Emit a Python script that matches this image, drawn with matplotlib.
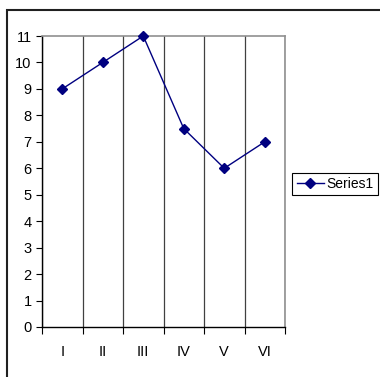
import numpy as np
import matplotlib.pyplot as plt
from matplotlib.patches import Rectangle

plt.rcParams['font.family'] = ['Liberation Sans', 'DejaVu Sans']

# data
categories = ['I', 'II', 'III', 'IV', 'V', 'VI']
series1 = [9, 10, 11, 7.5, 6, 7]
y_ticks = list(range(0, 12))

W, H = 380, 377
fig = plt.figure(figsize=(W / 100, H / 100), dpi=100)

# outer chart border (left and top visible, right/bottom run off the picture)
fig.patches.append(Rectangle((6.5 / W, -0.05), 1.2, (H - 9.5) / H + 0.05,
                             transform=fig.transFigure, fill=False,
                             edgecolor='#202020', linewidth=1.5))

ax = fig.add_axes([42 / W, 50 / H, (285 - 42) / W, (327 - 36) / H])

x = np.arange(len(categories)) + 0.5
ax.plot(x, series1, color='#000080', linewidth=1.0, marker='D',
        markersize=5, markerfacecolor='#000080', markeredgecolor='#000080',
        label='Series1', clip_on=False, zorder=5)

ax.set_xlim(0, len(categories))
ax.set_ylim(0, 11)

# category boundaries: gridlines + ticks
ax.set_xticks(np.arange(0, len(categories) + 1))
ax.set_xticklabels([])
ax.set_xticks(x, minor=True)
ax.set_xticklabels(categories, minor=True)
ax.tick_params(axis='x', which='major', length=5, width=0.8, direction='out',
               color='black')
ax.tick_params(axis='x', which='minor', length=0, pad=13, labelsize=10.5)
ax.xaxis.grid(True, which='major', color='#404040', linewidth=0.9)

ax.set_yticks(y_ticks)
ax.tick_params(axis='y', length=4, width=0.8, pad=3.5, labelsize=10.5,
               color='black')

for side in ['left', 'bottom']:
    ax.spines[side].set_color('black')
    ax.spines[side].set_linewidth(1.0)
for side in ['top', 'right']:
    ax.spines[side].set_color('#909090')
    ax.spines[side].set_linewidth(1.2)

leg = fig.legend(loc='center', bbox_to_anchor=(335 / W, (H - 184) / H),
                 fontsize=10, frameon=True, fancybox=False, shadow=False,
                 handlelength=2.0, handletextpad=0.15, borderpad=0.3,
                 borderaxespad=0)
leg.get_frame().set_edgecolor('black')
leg.get_frame().set_linewidth(0.8)
leg.get_frame().set_alpha(1)

fig.savefig('out.png', dpi=100)
